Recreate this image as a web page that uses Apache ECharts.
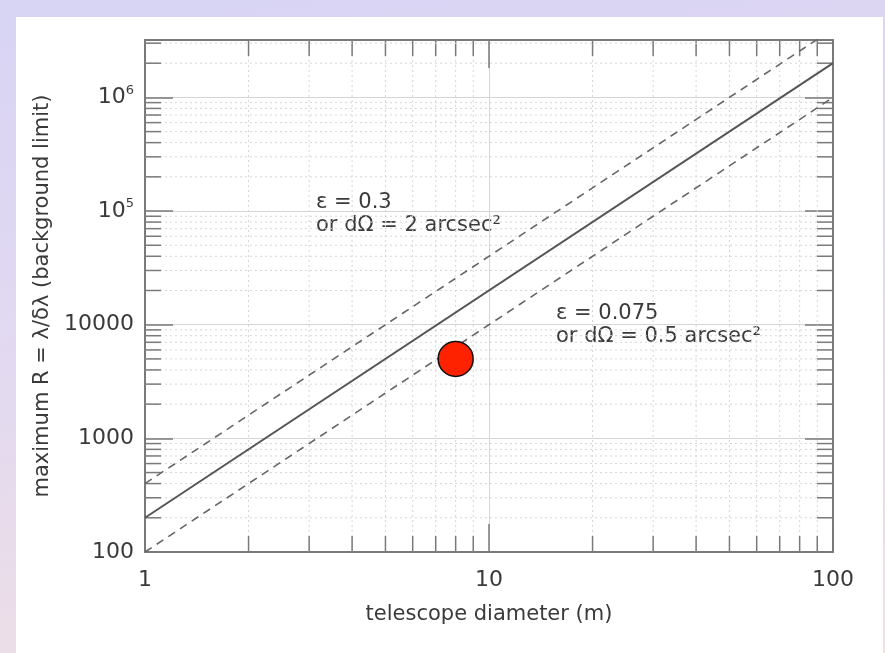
<!DOCTYPE html>
<html>
<head>
<meta charset="utf-8">
<script src="https://cdn.jsdelivr.net/npm/echarts@6/dist/echarts.min.js"></script>
<style>
  html, body { margin: 0; padding: 0; }
  #frame {
    position: relative; width: 885px; height: 653px; overflow: hidden;
    background: linear-gradient(172deg, #d8d4f4 0%, #e2d9f1 45%, #f0e0e4 100%);
  }
  #panel { position: absolute; left: 16px; top: 17px; width: 867px; height: 636px; background: #fff; }
  #chart { position: absolute; left: 0; top: 0; width: 885px; height: 653px; }
</style>
</head>
<body>
<div id="frame">
  <div id="panel"></div>
  <div id="chart"></div>
</div>
<script>
// telescope diameter (m) endpoints of each relation
const diameters = [1, 100]
// maximum R, background limit
const rMid = [200, 2000000]      // central relation
const rHigh = [400, 4000000]     // eps = 0.3 / dOmega = 2 arcsec^2
const rLow = [100, 1000000]      // eps = 0.075 / dOmega = 0.5 arcsec^2
// highlighted telescope
const markerPoint = [8, 5000]

const xRange = [1, 100]
const yRange = [100, 3200000]
const xMinor = [2, 3, 4, 5, 6, 7, 8, 9, 20, 30, 40, 50, 60, 70, 80, 90]
const yMinor = [
  200, 300, 400, 500, 600, 700, 800, 900,
  2000, 3000, 4000, 5000, 6000, 7000, 8000, 9000,
  20000, 30000, 40000, 50000, 60000, 70000, 80000, 90000,
  200000, 300000, 400000, 500000, 600000, 700000, 800000, 900000,
  2000000, 3000000
]

const FONT = 'DejaVu Sans'
const TEXT = '#3a3a3a'
const FRAME = '#7a7a7a'
const GRID = '#d6d6d6'

function isPow10(v) {
  const l = Math.log10(v)
  return Math.abs(l - Math.round(l)) < 1e-6
}

function yLabel(v) {
  if (!isPow10(v)) return ''
  const p = Math.round(Math.log10(v))
  if (p <= 4) return String(Math.round(v))
  return '10{sup|' + p + '}'
}

function xLabel(v) {
  return isPow10(v) ? String(Math.round(v)) : ''
}

function minorXItem(params, api) {
  const cs = params.coordSys
  const x = api.coord([api.value(0), yRange[0]])[0]
  const top = cs.y
  const bottom = cs.y + cs.height
  return {
    type: 'group',
    children: [
      { type: 'line', shape: { x1: x, y1: top, x2: x, y2: bottom }, style: { stroke: GRID, lineWidth: 1, lineDash: [2, 3] } },
      { type: 'line', shape: { x1: x, y1: bottom, x2: x, y2: bottom - 16 }, style: { stroke: FRAME, lineWidth: 1.5 } },
      { type: 'line', shape: { x1: x, y1: top, x2: x, y2: top + 16 }, style: { stroke: FRAME, lineWidth: 1.5 } },
    ],
  }
}

function minorYItem(params, api) {
  const cs = params.coordSys
  const y = api.coord([xRange[0], api.value(1)])[1]
  const left = cs.x
  const right = cs.x + cs.width
  return {
    type: 'group',
    children: [
      { type: 'line', shape: { x1: left, y1: y, x2: right, y2: y }, style: { stroke: GRID, lineWidth: 1, lineDash: [2, 3] } },
      { type: 'line', shape: { x1: left, y1: y, x2: left + 16, y2: y }, style: { stroke: FRAME, lineWidth: 1.5 } },
      { type: 'line', shape: { x1: right, y1: y, x2: right - 16, y2: y }, style: { stroke: FRAME, lineWidth: 1.5 } },
    ],
  }
}

function logAxis(range, position, extra) {
  return Object.assign({
    type: 'log',
    logBase: 10,
    min: range[0],
    max: range[1],
    position: position,
    axisLine: { show: true, lineStyle: { color: FRAME, width: 2 } },
    axisTick: { show: true, inside: true, length: 28, lineStyle: { color: FRAME, width: 1.5 } },
    axisLabel: { show: false },
    splitLine: { show: false },
  }, extra)
}

const chart = echarts.init(document.getElementById('chart'), null, { renderer: 'canvas' })

chart.setOption({
  backgroundColor: 'transparent',
  animation: false,
  textStyle: { fontFamily: FONT },
  grid: { left: 145, top: 40, right: 52, bottom: 101 },
  xAxis: [
    logAxis(xRange, 'bottom', {
      name: 'telescope diameter (m)',
      nameLocation: 'middle',
      nameGap: 52,
      nameTextStyle: { color: TEXT, fontSize: 21, fontFamily: FONT },
      axisLabel: { show: true, color: TEXT, fontSize: 22, fontFamily: FONT, margin: 17, formatter: xLabel },
      splitLine: { show: true, lineStyle: { color: GRID, width: 1 } },
    }),
    logAxis(xRange, 'top'),
  ],
  yAxis: [
    logAxis(yRange, 'left', {
      name: 'maximum R = λ/δλ (background limit)',
      nameLocation: 'middle',
      nameGap: 82,
      nameTextStyle: { color: TEXT, fontSize: 21, fontFamily: FONT },
      axisLabel: {
        show: true, color: TEXT, fontSize: 22, fontFamily: FONT, margin: 11,
        formatter: yLabel,
        rich: { sup: { fontSize: 13, color: TEXT, fontFamily: FONT, padding: [0, 0, 14, 0] } },
      },
      splitLine: { show: true, lineStyle: { color: GRID, width: 1 } },
    }),
    logAxis(yRange, 'right'),
  ],
  graphic: [
    {
      type: 'text', left: 316, top: 191,
      style: { text: 'ε = 0.3\nor dΩ = 2 arcsec²', font: '21px "DejaVu Sans"', fill: TEXT, lineHeight: 23 },
    },
    {
      type: 'text', left: 556, top: 302,
      style: { text: 'ε = 0.075\nor dΩ = 0.5 arcsec²', font: '21px "DejaVu Sans"', fill: TEXT, lineHeight: 23 },
    },
  ],
  series: [
    {
      type: 'custom', silent: true, z: 1,
      renderItem: minorXItem,
      data: xMinor.map((v) => [v, yRange[0]]),
    },
    {
      type: 'custom', silent: true, z: 1,
      renderItem: minorYItem,
      data: yMinor.map((v) => [xRange[0], v]),
    },
    {
      type: 'line', z: 3, symbol: 'none', silent: true,
      data: diameters.map((d, i) => [d, rMid[i]]),
      lineStyle: { color: '#555', width: 2 },
    },
    {
      type: 'line', z: 3, symbol: 'none', silent: true,
      data: diameters.map((d, i) => [d, rHigh[i]]),
      lineStyle: { color: '#666', width: 1.6, type: [8, 6] },
    },
    {
      type: 'line', z: 3, symbol: 'none', silent: true,
      data: diameters.map((d, i) => [d, rLow[i]]),
      lineStyle: { color: '#666', width: 1.6, type: [8, 6] },
    },
    {
      type: 'scatter', z: 5, silent: true,
      symbolSize: 35,
      data: [markerPoint],
      itemStyle: { color: '#ff2200', borderColor: '#111', borderWidth: 1.5, opacity: 1 },
    },
  ],
})
</script>
</body>
</html>
